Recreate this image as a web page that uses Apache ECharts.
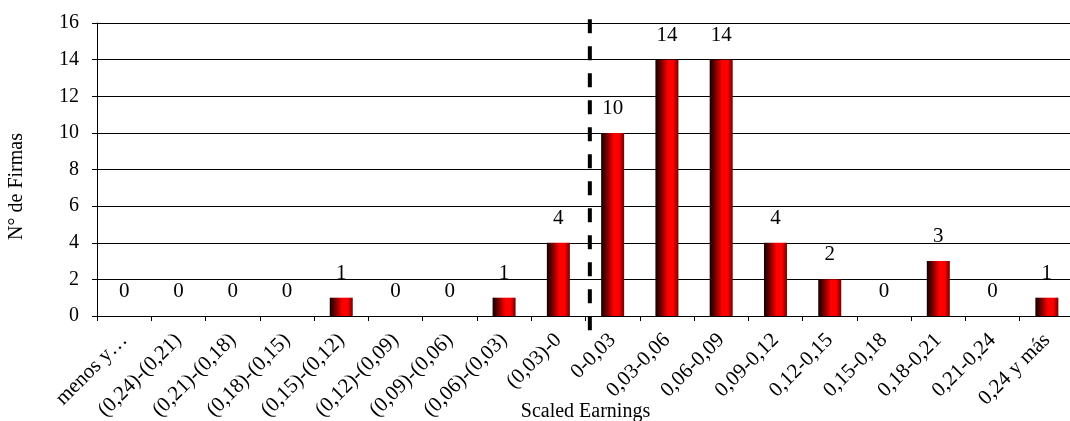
<!DOCTYPE html>
<html>
<head>
<meta charset="utf-8">
<script src="https://cdn.jsdelivr.net/npm/echarts@6/dist/echarts.min.js"></script>
<style>
  html, body { margin: 0; padding: 0; background: #fff; }
  #chart { width: 1070px; height: 421px; }
</style>
</head>
<body>
<div id="chart"></div>
<script>
// categories of scaled earnings
const categories = [
  'menos y…', '(0,24)-(0,21)', '(0,21)-(0,18)', '(0,18)-(0,15)', '(0,15)-(0,12)',
  '(0,12)-(0,09)', '(0,09)-(0,06)', '(0,06)-(0,03)', '(0,03)-0', '0-0,03',
  '0,03-0,06', '0,06-0,09', '0,09-0,12', '0,12-0,15', '0,15-0,18',
  '0,18-0,21', '0,21-0,24', '0,24 y más'
]
// number of firms per category
const firmCounts = [0, 0, 0, 0, 1, 0, 0, 1, 4, 10, 14, 14, 4, 2, 0, 3, 0, 1]
// position of the zero cut line (in category units) and its vertical extent
const cutLineX = 9.08
const cutLineY = [16.2, -1.37]

const serif = '"Liberation Serif", "Times New Roman", serif'

const chart = echarts.init(document.getElementById('chart'))

chart.setOption({
  animation: false,
  textStyle: { fontFamily: serif, color: '#000' },
  grid: {
    left: 97,
    top: 23,
    width: 977,
    height: 293,
    containLabel: false,
    outerBoundsMode: 'none'
  },
  xAxis: [{
    type: 'category',
    data: categories,
    name: 'Scaled Earnings',
    nameLocation: 'middle',
    nameGap: 86,
    nameMoveOverlap: false,
    nameTextStyle: { fontFamily: serif, fontSize: 20, color: '#000' },
    axisLine: { lineStyle: { color: '#000', width: 1 } },
    axisTick: { show: true, length: 5, lineStyle: { color: '#000' } },
    axisLabel: {
      interval: 0,
      rotate: 45,
      margin: 21,
      fontFamily: serif,
      fontSize: 21,
      color: '#000'
    },
    splitLine: { show: false }
  }, {
    type: 'value',
    show: false,
    min: 0,
    max: categories.length
  }],
  yAxis: [{
    type: 'value',
    min: 0,
    max: 16,
    interval: 2,
    name: 'N° de Firmas',
    nameLocation: 'middle',
    nameGap: 70,
    nameMoveOverlap: false,
    nameTextStyle: {
      fontFamily: serif,
      fontSize: 20,
      color: '#000',
      padding: [0, 34, 0, 0]
    },
    axisLine: { show: true, lineStyle: { color: '#000', width: 1 } },
    axisTick: { show: true, length: 5, lineStyle: { color: '#000' } },
    axisLabel: { margin: 18, fontFamily: serif, fontSize: 20, color: '#000' },
    splitLine: { show: true, lineStyle: { color: '#000', width: 1 } }
  }],
  series: [{
    name: 'Firmas',
    type: 'bar',
    data: firmCounts,
    barWidth: 23,
    itemStyle: {
      color: new echarts.graphic.LinearGradient(0, 0, 1, 0, [
        { offset: 0, color: '#100000' },
        { offset: 0.2, color: '#600000' },
        { offset: 0.55, color: '#ff0000' },
        { offset: 0.78, color: '#ff0000' },
        { offset: 1, color: '#700000' }
      ])
    },
    label: {
      show: true,
      position: 'top',
      distance: 14,
      fontFamily: serif,
      fontSize: 21,
      color: '#000'
    }
  }, {
    name: 'corte',
    type: 'line',
    xAxisIndex: 1,
    clip: false,
    symbol: 'none',
    silent: true,
    data: [[cutLineX, cutLineY[0]], [cutLineX, cutLineY[1]]],
    lineStyle: { color: '#000', width: 4, type: [14, 13] }
  }]
})
</script>
</body>
</html>
